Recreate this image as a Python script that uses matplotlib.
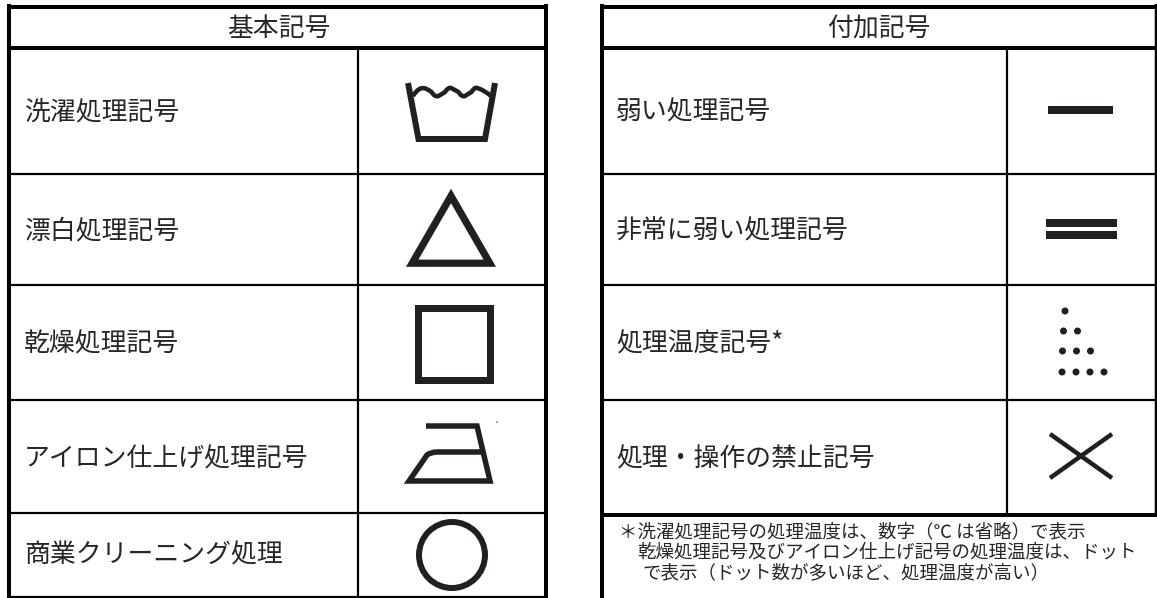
import matplotlib
matplotlib.use("Agg")
import matplotlib.pyplot as plt
from matplotlib.path import Path
from matplotlib.patches import PathPatch, Circle, Rectangle, Polygon

plt.rcParams['font.family'] = ['Noto Sans CJK JP', 'DejaVu Sans']

# ---- content ----
left_title = "基本記号"
right_title = "付加記号"
left_labels = ["洗濯処理記号", "漂白処理記号", "乾燥処理記号", "アイロン仕上げ処理記号", "商業クリーニング処理"]
right_labels = ["弱い処理記号", "非常に弱い処理記号", "処理温度記号*", "処理・操作の禁止記号"]
footnote_lines = ["＊洗濯処理記号の処理温度は、数字（℃ は省略）で表示",
                  "乾燥処理記号及びアイロン仕上げ記号の処理温度は、ドット",
                  "で表示（ドット数が多いほど、処理温度が高い）"]
dot_rows = [1, 2, 3, 4]

W, H = 1157, 598
INK = "#231f20"
TXT = "#262626"
px = 72 / 100  # one pixel in points at dpi 100

fig = plt.figure(figsize=(W / 100, H / 100), dpi=100)
ax = fig.add_axes([0, 0, 1, 1])
ax.set_xlim(0, W)
ax.set_ylim(H, 0)
ax.axis("off")


def rule(x0, y0, x1, y1, w):
    ax.plot([x0, x1], [y0, y1], color="black", lw=w * px, solid_capstyle="butt")


# left table frame
rule(9, 4, 9, 598, 4)
rule(546, 4, 546, 598, 4)
rule(7, 7, 548, 7, 4)
rule(7, 48, 548, 48, 4)
for y in [174, 285, 400, 513, 596.5]:
    rule(9, y, 546, y, 2.2)
rule(358, 48, 358, 597, 2.2)

# right table frame
rule(602, 4, 602, 598, 4)
rule(1155.5, 4, 1155.5, 516, 2.5)
rule(600, 7, 1157, 7, 4)
rule(600, 48, 1157, 48, 4)
for y in [174, 285, 400]:
    rule(602, y, 1156, y, 2.2)
rule(600, 514.5, 1157, 514.5, 4)
rule(1006.5, 48, 1006.5, 514, 2.2)

# headers and row labels
FS = 18.6
ax.text(279, 28.5, left_title, fontsize=FS, color=TXT, ha="center", va="center")
ax.text(879, 28.5, right_title, fontsize=FS, color=TXT, ha="center", va="center")
for y, s in zip([112, 231, 344, 459, 555], left_labels):
    ax.text(24, y, s, fontsize=FS, color=TXT, ha="left", va="center")
for y, s in zip([112, 231, 344, 459], right_labels):
    ax.text(616, y, s, fontsize=FS, color=TXT, ha="left", va="center")

# footnote
for (x, y), s in zip([(619, 532), (637, 553), (643, 573)], footnote_lines):
    ax.text(x, y, s, fontsize=13.3, color=TXT, ha="left", va="center")

# wash tub
ax.plot([408, 418.5, 485, 495], [83, 139, 139, 83], color=INK, lw=6 * px,
        solid_joinstyle="miter", solid_capstyle="butt")
wave = Path([(413, 96), (419, 86), (425.5, 88.5), (429, 90), (431.5, 92), (435, 97.5), (438.5, 96),
             (442, 94), (445, 92), (449, 86), (452, 88.5), (455, 90), (458.5, 92), (462, 97.5), (465, 96),
             (468, 94), (471.5, 92), (475, 86), (478.5, 88.5), (484, 90), (491, 96)],
            [Path.MOVETO] + [Path.CURVE3] * 20)
ax.add_patch(PathPatch(wave, fc="none", ec=INK, lw=4.5 * px))

# triangle
ax.add_patch(Polygon([(412.2, 263.2), (451, 196), (489.8, 263.2)], closed=True, fc="none", ec=INK,
                     lw=7.2 * px, joinstyle="miter"))
# square
ax.add_patch(Rectangle((417.5, 307.5), 72, 72, fc="none", ec=INK, lw=7 * px, joinstyle="miter"))

# iron
sole = Path([(426, 426), (477, 426), (490, 481), (409, 481), (427, 455), (431, 452), (437, 452), (482, 452)],
            [Path.MOVETO, Path.LINETO, Path.LINETO, Path.LINETO, Path.LINETO, Path.CURVE3, Path.CURVE3, Path.LINETO])
ax.add_patch(PathPatch(sole, fc="none", ec=INK, lw=5.5 * px, joinstyle="miter", capstyle="butt"))
ax.add_patch(Circle((497, 422), 0.7, fc=INK, ec="none"))

# circle
ax.add_patch(Circle((452, 555), 33, fc="none", ec=INK, lw=6 * px))

# weak / very weak bars
ax.add_patch(Rectangle((1048, 106), 65, 8, fc=INK, ec="none"))
ax.add_patch(Rectangle((1046, 219), 71, 8, fc=INK, ec="none"))
ax.add_patch(Rectangle((1046, 231), 71, 8, fc=INK, ec="none"))

# temperature dots
for n, y, x0 in zip(dot_rows, [311, 331, 351, 372], [1065, 1063.5, 1062.5, 1062]):
    for i in range(n):
        ax.add_patch(Circle((x0 + 14 * i, y), 3.5, fc=INK, ec="none"))

# prohibition cross
ax.plot([1050, 1112], [434, 478], color=INK, lw=4.5 * px, solid_capstyle="butt")
ax.plot([1050, 1112], [478, 434], color=INK, lw=4.5 * px, solid_capstyle="butt")

fig.savefig("out.png", dpi=100, facecolor="white")
